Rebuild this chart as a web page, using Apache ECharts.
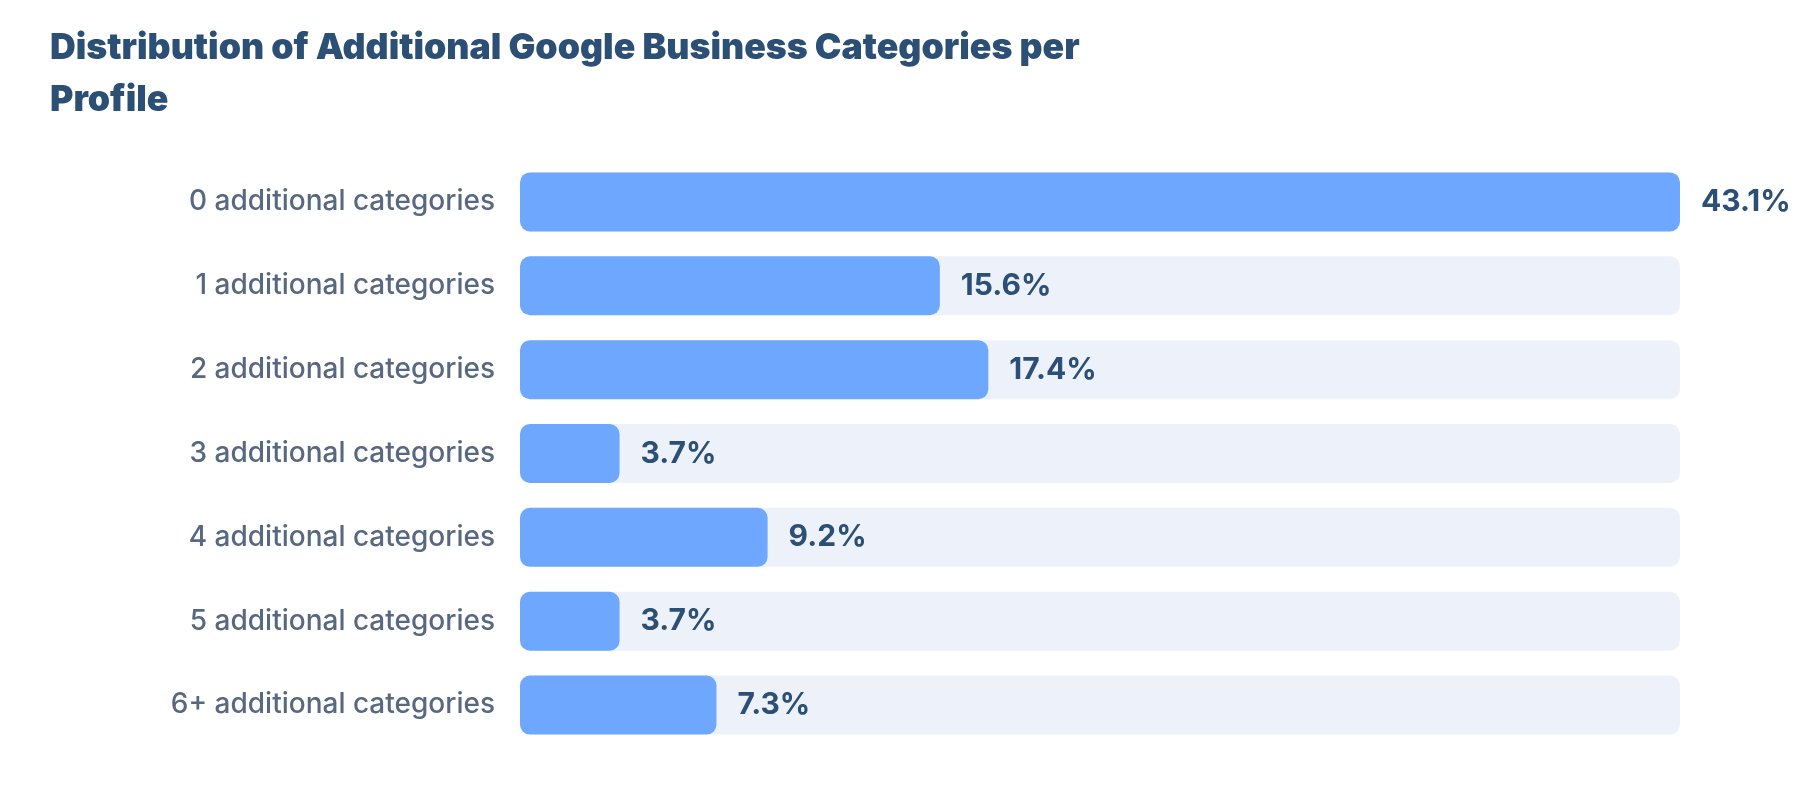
<!DOCTYPE html>
<html>
<head>
<meta charset="utf-8">
<script src="https://cdn.jsdelivr.net/npm/echarts@6/dist/echarts.min.js"></script>
<style>
html,body{margin:0;padding:0;background:#fff;}
#chart{width:1800px;height:792px;}
</style>
</head>
<body>
<div id="chart"></div>
<script>
const titleText = 'Distribution of Additional Google Business Categories per\nProfile';
const categories = ['0 additional categories','1 additional categories','2 additional categories','3 additional categories','4 additional categories','5 additional categories','6+ additional categories'];
const values = [43.1, 15.6, 17.4, 3.7, 9.2, 3.7, 7.3];
const axisMax = 43.1;

const chart = echarts.init(document.getElementById('chart'));
chart.setOption({
  animation: false,
  backgroundColor: '#ffffff',
  title: {
    text: titleText,
    left: 45,
    top: 17,
    textStyle: {
      fontFamily: 'Inter',
      fontWeight: 900,
      fontSize: 35.7,
      lineHeight: 52,
      color: '#2c4f76'
    }
  },
  grid: { left: 520, right: 120, top: 160, bottom: 45 },
  xAxis: {
    type: 'value', min: 0, max: axisMax, show: false
  },
  yAxis: {
    type: 'category',
    data: categories,
    inverse: true,
    axisLine: { show: false },
    axisTick: { show: false },
    splitLine: { show: false },
    axisLabel: {
      margin: 25,
      fontFamily: 'Inter',
      fontWeight: 500,
      fontSize: 28,
      padding: [4, 0, 0, 0],
      color: '#586880'
    }
  },
  series: [{
    type: 'bar',
    data: values,
    barWidth: 59,
    showBackground: true,
    backgroundStyle: { color: '#edf2fa', borderRadius: 10 },
    itemStyle: { color: '#6ea8fe', borderRadius: 10 },
    label: {
      show: true,
      position: 'right',
      distance: 21,
      formatter: '{c}%',
      fontFamily: 'Inter',
      fontWeight: 'bold',
      fontSize: 30,
      padding: [2, 0, 0, 0],
      color: '#2c4f76'
    }
  }]
});
</script>
</body>
</html>
